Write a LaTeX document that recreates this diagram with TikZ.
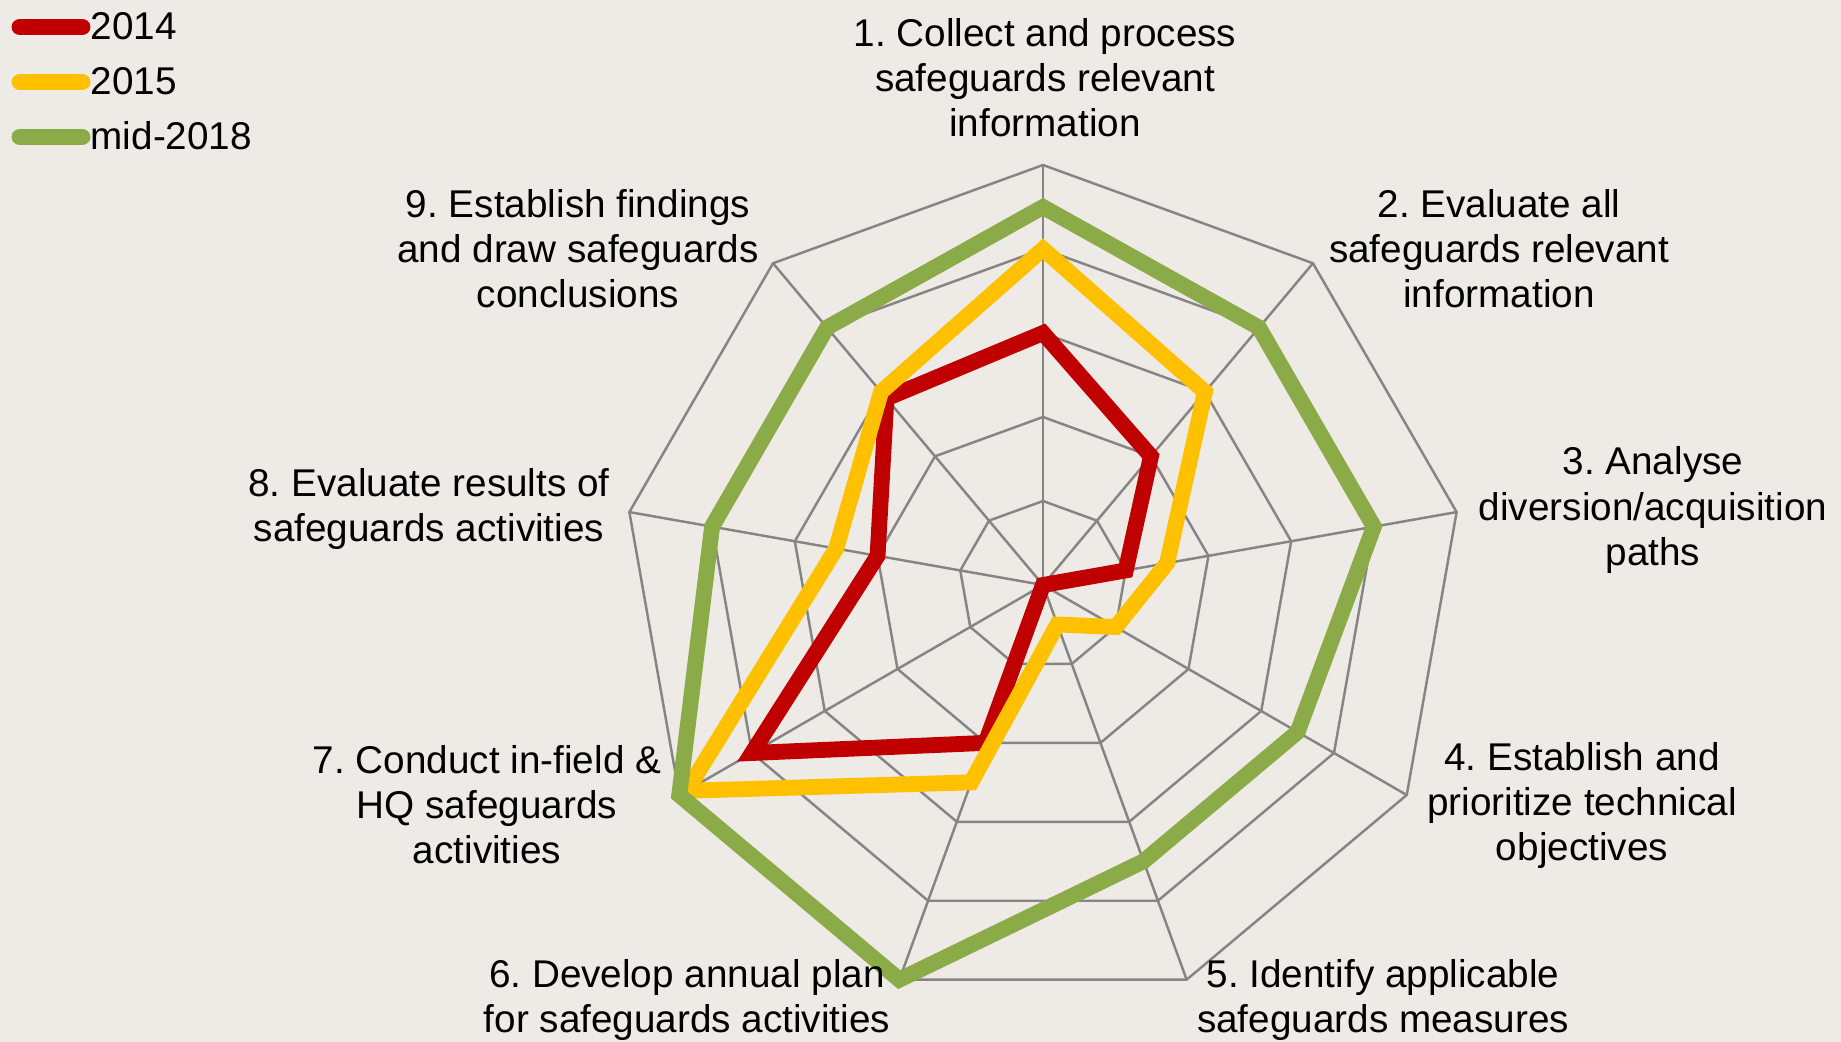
\documentclass[tikz,border=0pt]{standalone}
\usepackage{fontspec}
\setmainfont{Liberation Sans}
\frenchspacing
\definecolor{bgbeige}{HTML}{EEEBE6}
\definecolor{gridgray}{HTML}{858585}
\definecolor{red14}{HTML}{C00000}
\definecolor{yel15}{HTML}{FFC000}
\definecolor{grn18}{HTML}{8BAA48}
\newcommand{\lvl}{84}
\tikzset{
  lab/.style={align=center, inner sep=0pt, font=\fontsize{11}{12.8}\selectfont},
  grid/.style={gridgray, line width=0.7pt},
  series/.style={line width=4.5pt, line join=miter},
  key/.style={line width=4.8pt, line cap=round},
}
\begin{document}
\begin{tikzpicture}[x=0.01cm,y=-0.01cm]
\fill[bgbeige] (0,0) rectangle (1841,1042);
\useasboundingbox (0,0) rectangle (1841,1042);
\begin{scope}[shift={(1043,585)}]
\foreach \r in {1,...,5}
  \draw[grid] (-90:\r*\lvl) \foreach \k in {1,...,8} { -- (\k*40-90:\r*\lvl) } -- cycle;
\foreach \k in {0,...,8}
  \draw[grid] (0,0) -- (\k*40-90:5*\lvl);
\draw[series,red14] (-90:3*\lvl) -- (-50:2*\lvl) -- (-10:1*\lvl) -- (0,0)
  -- (110:2*\lvl) -- (150:4*\lvl) -- (190:2*\lvl) -- (230:2.9*\lvl) -- cycle;
\draw[series,yel15] (-90:4*\lvl) -- (-50:3*\lvl) -- (-10:1.5*\lvl) -- (30:1*\lvl)
  -- (70:0.5*\lvl) -- (110:2.5*\lvl) -- (150:4.9*\lvl) -- (190:2.5*\lvl) -- (230:3*\lvl) -- cycle;
\draw[series,grn18] (-90:4.5*\lvl) -- (-50:4*\lvl) -- (-10:4*\lvl) -- (30:3.5*\lvl)
  -- (70:3.5*\lvl) -- (110:5*\lvl) -- (150:5*\lvl) -- (190:4*\lvl) -- (230:4*\lvl) -- cycle;
\end{scope}
\node[lab] (lab1) at (1045,78) {1. Collect and process\\safeguards relevant\\information};
\node[lab] (lab2) at (1499,249) {2. Evaluate all\\safeguards relevant\\information};
\node[lab] (lab3) at (1653,510) {3. Analyse\\diversion/acquisition\\paths};
\node[lab] (lab4) at (1582,805) {4. Establish and\\prioritize technical\\objectives};
\node[lab] (lab5) at (1383,1000) {5. Identify applicable\\safeguards measures};
\node[lab] (lab6) at (687,1000) {6. Develop annual plan\\for safeguards activities};
\node[lab] (lab7) at (487,805) {7. Conduct in-field \&\\HQ safeguards\\activities};
\node[lab] (lab8) at (429,509) {8. Evaluate results of\\safeguards activities};
\node[lab] (lab9) at (578,249) {9. Establish findings\\and draw safeguards\\conclusions};
\draw[key,red14] (20,27) -- (82,27);
\draw[key,yel15] (20,82) -- (82,82);
\draw[key,grn18] (20,137) -- (82,137);
\node[lab,anchor=west] (key14) at (90,26) {2014};
\node[lab,anchor=west] (key15) at (90,81) {2015};
\node[lab,anchor=west] (key18) at (90,136) {mid-2018};
\end{tikzpicture}
\end{document}
